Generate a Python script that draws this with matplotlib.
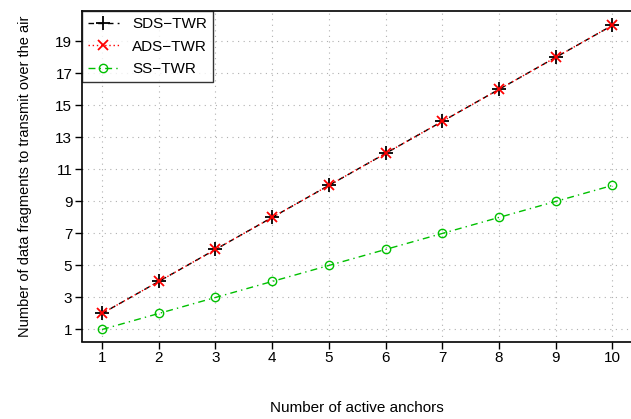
import matplotlib.pyplot as plt
import numpy as np

plt.rcParams['font.family'] = ['Liberation Sans', 'DejaVu Sans']

anchors = [1, 2, 3, 4, 5, 6, 7, 8, 9, 10]
sds_twr = [2, 4, 6, 8, 10, 12, 14, 16, 18, 20]
ads_twr = [2, 4, 6, 8, 10, 12, 14, 16, 18, 20]
ss_twr = [1, 2, 3, 4, 5, 6, 7, 8, 9, 10]
y_ticks = [1, 3, 5, 7, 9, 11, 13, 15, 17, 19]

fig = plt.figure(figsize=(6.31, 4.19), dpi=100)
ax = fig.add_axes([82 / 631, 1 - 341.5 / 419, 549 / 631, 330.5 / 419])

ax.plot(anchors, sds_twr, color='black', linestyle=(0, (4, 3)), linewidth=1,
        marker='+', markersize=10, markeredgewidth=1.3, label='SDS\u2212TWR')
ax.plot(anchors, ads_twr, color='red', linestyle=(0, (1, 2)), linewidth=1,
        marker='x', markersize=7, markeredgewidth=1.3, label='ADS\u2212TWR')
ax.plot(anchors, ss_twr, color='#00c000', linestyle=(0, (5, 3, 1, 3)), linewidth=1,
        marker='o', markersize=6, markerfacecolor='none', markeredgewidth=1,
        label='SS\u2212TWR')

ax.set_xlim(0.647, 10.33)
ax.set_ylim(0.25, 20.9)
ax.set_xticks(anchors)
ax.set_yticks(y_ticks)
ax.grid(True, color='#b0b0b0', linestyle=(0, (1, 4)), linewidth=0.8)
ax.tick_params(direction='out', length=5, width=1, labelsize=11, pad=2)
ax.spines['right'].set_visible(False)
for s in ['left', 'bottom', 'top']:
    ax.spines[s].set_linewidth(1.2)

ax.set_xlabel('Number of active anchors', fontsize=11, labelpad=26)
ax.set_ylabel('Number of data fragments to transmit over the air', fontsize=10.5, labelpad=17)

leg = ax.legend(loc='upper left', fontsize=11, frameon=True, fancybox=False,
                borderaxespad=0, handlelength=2.0, handletextpad=0.9,
                borderpad=0.4, labelspacing=0.55)
leg.get_frame().set_edgecolor('black')
leg.get_frame().set_linewidth(1)

fig.savefig('out.png', dpi=100)
